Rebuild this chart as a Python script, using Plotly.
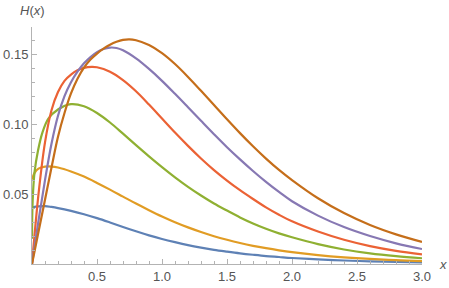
import plotly.graph_objects as go

# ---- data ----
x_blue = [0, 0.05, 0.1, 0.15, 0.2, 0.3, 0.4, 0.5, 0.6, 0.7, 0.8, 0.9, 1.0, 1.1, 1.2, 1.3, 1.4,
          1.5, 1.6, 1.7, 1.8, 1.9, 2.0, 2.2, 2.4, 2.6, 2.8, 3.0]
y_blue = [0.0405, 0.0412, 0.0414, 0.0408, 0.0400, 0.0380, 0.0356, 0.0328, 0.0297, 0.0265, 0.0234,
          0.0205, 0.0179, 0.0156, 0.0135, 0.0117, 0.0101, 0.0088, 0.0076, 0.0066, 0.0057, 0.0050,
          0.0043, 0.0033, 0.0025, 0.0019, 0.0015, 0.0012]

x_orange = [0, 0.02, 0.05, 0.1, 0.15, 0.2, 0.3, 0.4, 0.5, 0.6, 0.7, 0.8, 0.9, 1.0, 1.1, 1.2, 1.3,
            1.4, 1.5, 1.6, 1.7, 1.8, 1.9, 2.0, 2.2, 2.4, 2.6, 2.8, 3.0]
y_orange = [0.0605, 0.0652, 0.0682, 0.0696, 0.0697, 0.0690, 0.0662, 0.0625, 0.0580, 0.0532, 0.0482,
            0.0432, 0.0385, 0.0340, 0.0299, 0.0262, 0.0229, 0.0199, 0.0173, 0.0150, 0.0130, 0.0113,
            0.0098, 0.0085, 0.0064, 0.0048, 0.0036, 0.0027, 0.0021]

x_green = [0, 0.005, 0.02, 0.046, 0.08, 0.126, 0.2, 0.3, 0.4, 0.5, 0.6, 0.7, 0.8, 0.9, 1.0, 1.1,
           1.2, 1.3, 1.4, 1.5, 1.6, 1.7, 1.8, 1.9, 2.0, 2.2, 2.4, 2.6, 2.8, 3.0]
y_green = [0.018, 0.045, 0.066, 0.081, 0.094, 0.104, 0.1105, 0.1143, 0.1128, 0.1080, 0.1012, 0.0932,
           0.0850, 0.0770, 0.0693, 0.0620, 0.0552, 0.0490, 0.0433, 0.0382, 0.0333, 0.0290, 0.0252,
           0.0219, 0.0191, 0.0142, 0.0104, 0.0076, 0.0056, 0.0041]

x_red = [0, 0.05, 0.1, 0.15, 0.2, 0.25, 0.3, 0.35, 0.4, 0.46, 0.5, 0.6, 0.7, 0.8, 0.9, 1.0, 1.1,
         1.2, 1.3, 1.4, 1.5, 1.6, 1.7, 1.8, 1.9, 2.0, 2.2, 2.4, 2.6, 2.8, 3.0]
y_red = [0.0, 0.050, 0.087, 0.110, 0.123, 0.131, 0.1355, 0.1385, 0.1403, 0.1410, 0.1407, 0.1375,
         0.1315, 0.1235, 0.1140, 0.1040, 0.0940, 0.0845, 0.0755, 0.0672, 0.0597, 0.0528, 0.0465,
         0.0405, 0.0352, 0.0305, 0.0232, 0.0173, 0.0128, 0.0094, 0.0069]

x_purple = [0, 0.05, 0.1, 0.15, 0.2, 0.25, 0.3, 0.35, 0.4, 0.45, 0.5, 0.55, 0.6, 0.65, 0.7, 0.8,
            0.9, 1.0, 1.1, 1.2, 1.3, 1.4, 1.5, 1.6, 1.7, 1.8, 1.9, 2.0, 2.2, 2.4, 2.6, 2.8, 3.0]
y_purple = [0.0, 0.031, 0.060, 0.086, 0.106, 0.120, 0.130, 0.1375, 0.1435, 0.1480, 0.1515, 0.1538,
            0.1548, 0.1545, 0.1528, 0.1470, 0.1395, 0.1310, 0.1217, 0.1121, 0.1024, 0.0928, 0.0835,
            0.0748, 0.0665, 0.0587, 0.0515, 0.0449, 0.0346, 0.0264, 0.0200, 0.0148, 0.0107]

x_brown = [0, 0.05, 0.1, 0.15, 0.2, 0.25, 0.3, 0.35, 0.4, 0.45, 0.5, 0.55, 0.6, 0.65, 0.7, 0.75,
           0.8, 0.9, 1.0, 1.1, 1.2, 1.3, 1.4, 1.5, 1.6, 1.7, 1.8, 1.9, 2.0, 2.2, 2.4, 2.6, 2.8, 3.0]
y_brown = [0.0, 0.023, 0.046, 0.069, 0.091, 0.108, 0.122, 0.1325, 0.1405, 0.1462, 0.1505, 0.1540,
           0.1568, 0.1589, 0.1603, 0.1607, 0.1600, 0.1566, 0.1508, 0.1430, 0.1338, 0.1239, 0.1137,
           0.1035, 0.0936, 0.0842, 0.0754, 0.0673, 0.0600, 0.0470, 0.0364, 0.0279, 0.0212, 0.0158]

x_tick_vals = [0.5, 1.0, 1.5, 2.0, 2.5, 3.0]
x_tick_text = ["0.5", "1.0", "1.5", "2.0", "2.5", "3.0"]
y_tick_vals = [0.05, 0.10, 0.15]
y_tick_text = ["0.05", "0.10", "0.15"]

series = [
    (x_blue, y_blue, "#5E81B5"),
    (x_orange, y_orange, "#E19C24"),
    (x_green, y_green, "#8FB032"),
    (x_red, y_red, "#EB6235"),
    (x_purple, y_purple, "#8778B3"),
    (x_brown, y_brown, "#C56E1A"),
]

fig = go.Figure()
for xs, ys, col in series:
    fig.add_trace(go.Scatter(x=xs, y=ys, mode="lines",
                             line=dict(color=col, width=2.2, shape="spline", smoothing=1.0),
                             showlegend=False, hoverinfo="skip"))

axis_col = "#b3b3b3"
font_family = "Liberation Sans, Arial, sans-serif"
label_font = dict(family=font_family, size=13, color="#555555")

fig.update_layout(
    width=449, height=288,
    margin=dict(l=32, r=27, t=27, b=24, autoexpand=False),
    paper_bgcolor="white", plot_bgcolor="white",
    xaxis=dict(range=[0, 3.0], showgrid=False, zeroline=False, automargin=False,
               showline=True, linecolor=axis_col, linewidth=1,
               ticks="inside", ticklen=5, tickcolor=axis_col,
               tickvals=x_tick_vals, ticktext=x_tick_text, tickfont=label_font,
               minor=dict(ticks="inside", ticklen=3, dtick=0.1, tick0=0, tickcolor=axis_col,
                          showgrid=False)),
    yaxis=dict(range=[0, 0.1695], showgrid=False, zeroline=False, automargin=False,
               showline=True, linecolor=axis_col, linewidth=1,
               ticks="inside", ticklen=5, tickcolor=axis_col,
               tickvals=y_tick_vals, ticktext=y_tick_text, tickfont=label_font,
               minor=dict(ticks="inside", ticklen=3, dtick=0.01, tick0=0, tickcolor=axis_col,
                          showgrid=False)),
    annotations=[
        dict(text="<i>H</i>(<i>x</i>)", x=0, y=1, xref="paper", yref="paper",
             xanchor="center", yanchor="bottom", yshift=7, showarrow=False,
             font=dict(family=font_family, size=13, color="#555555")),
        dict(text="<i>x</i>", x=1, y=0, xref="paper", yref="paper",
             xanchor="left", yanchor="middle", xshift=15, showarrow=False,
             font=dict(family=font_family, size=13, color="#555555")),
    ],
)

# remove the default page margin so the figure fills the window exactly
fig.write_html("out.html", config={"displayModeBar": False, "staticPlot": True},
               post_script="document.body.style.margin='0';document.body.style.overflow='hidden';")
